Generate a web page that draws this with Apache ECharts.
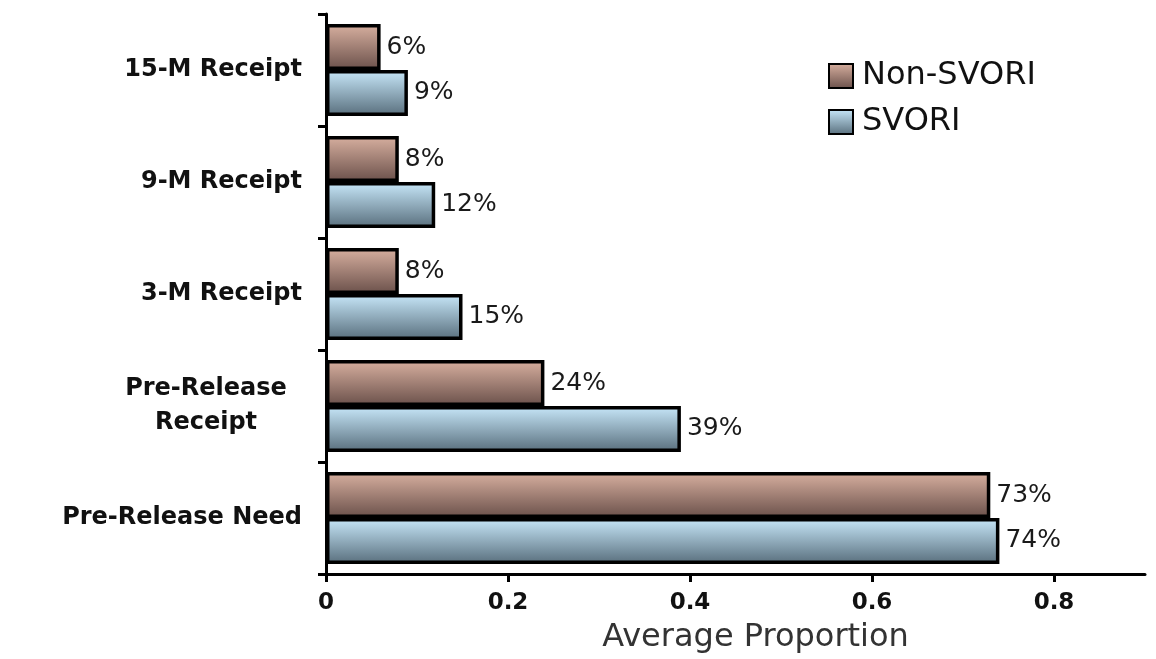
<!DOCTYPE html>
<html><head><meta charset="utf-8">
<script src="https://cdn.jsdelivr.net/npm/echarts@6/dist/echarts.min.js"></script>
<style>html,body{margin:0;padding:0;background:#fff}#c{width:1156px;height:659px}</style>
</head><body><div id="c"></div>
<script>
const categories = ['Pre-Release Need', 'Pre-Release\nReceipt', '3-M Receipt', '9-M Receipt', '15-M Receipt'];
const nonSvori = [0.73, 0.24, 0.08, 0.08, 0.06];
const svori = [0.74, 0.39, 0.15, 0.12, 0.09];
const xTicks = [0, 0.2, 0.4, 0.6, 0.8];

const F = '"DejaVu Sans", Verdana, sans-serif';
const brown = new echarts.graphic.LinearGradient(0, 0, 0, 1, [{offset: 0, color: '#d8b0a0'}, {offset: 1, color: '#6a504a'}]);
const blue = new echarts.graphic.LinearGradient(0, 0, 0, 1, [{offset: 0, color: '#c8e8fa'}, {offset: 1, color: '#586e7c'}]);
const labelCfg = {show: true, position: 'right', distance: 6, fontFamily: F, fontSize: 25, color: '#1a1a1a',
  formatter: p => Math.round(p.value * 100) + '%'};

const chart = echarts.init(document.getElementById('c'));
chart.setOption({
  animation: false,
  grid: {left: 326, right: 11, top: 14, bottom: 65, containLabel: false},
  legend: {
    orient: 'vertical', left: 823, top: 55, itemWidth: 24, itemHeight: 24, itemGap: 14,
    data: ['Non-SVORI', 'SVORI'],
    textStyle: {fontFamily: F, fontSize: 32, color: '#111', padding: [0, 0, 0, 4]},
    icon: 'rect'
  },
  xAxis: {
    type: 'value', min: 0, max: 0.9, interval: 0.2,
    axisLine: {show: true, lineStyle: {color: '#000', width: 3}},
    axisTick: {show: true, length: 8, lineStyle: {color: '#000', width: 3}},
    splitLine: {show: false},
    axisLabel: {fontFamily: F, fontSize: 23, fontWeight: 'bold', color: '#111', margin: 18,
      showMaxLabel: false, formatter: v => xTicks.includes(Math.round(v*10)/10) ? String(Math.round(v*10)/10) : ''},
    name: 'Average Proportion', nameLocation: 'middle', nameGap: 48,
    nameTextStyle: {fontFamily: F, fontSize: 32, color: '#333', padding: [0, 0, 0, 40]}
  },
  yAxis: {
    type: 'category', data: categories,
    axisLine: {show: true, lineStyle: {color: '#000', width: 3}},
    axisTick: {show: true, length: 8, lineStyle: {color: '#000', width: 3}},
    axisLabel: {fontFamily: F, fontSize: 24, fontWeight: 'bold', color: '#111', margin: 24, lineHeight: 34,
      align: 'right',
      formatter: v => v.indexOf('\n') >= 0 ? v.split('\n').map(s => '{c|' + s + '}').join('\n') : v,
      rich: {c: {width: 192, align: 'center', fontFamily: F, fontSize: 24, fontWeight: 'bold', color: '#111', lineHeight: 34}}
    }
  },
  series: [
    {name: 'Non-SVORI', type: 'bar', data: nonSvori, barGap: '0%', barCategoryGap: '18%',
      itemStyle: {color: brown, borderColor: '#000', borderWidth: 3.5}, label: labelCfg},
    {name: 'SVORI', type: 'bar', data: svori, barGap: '0%', barCategoryGap: '18%',
      itemStyle: {color: blue, borderColor: '#000', borderWidth: 3.5}, label: labelCfg}
  ]
});
</script></body></html>
